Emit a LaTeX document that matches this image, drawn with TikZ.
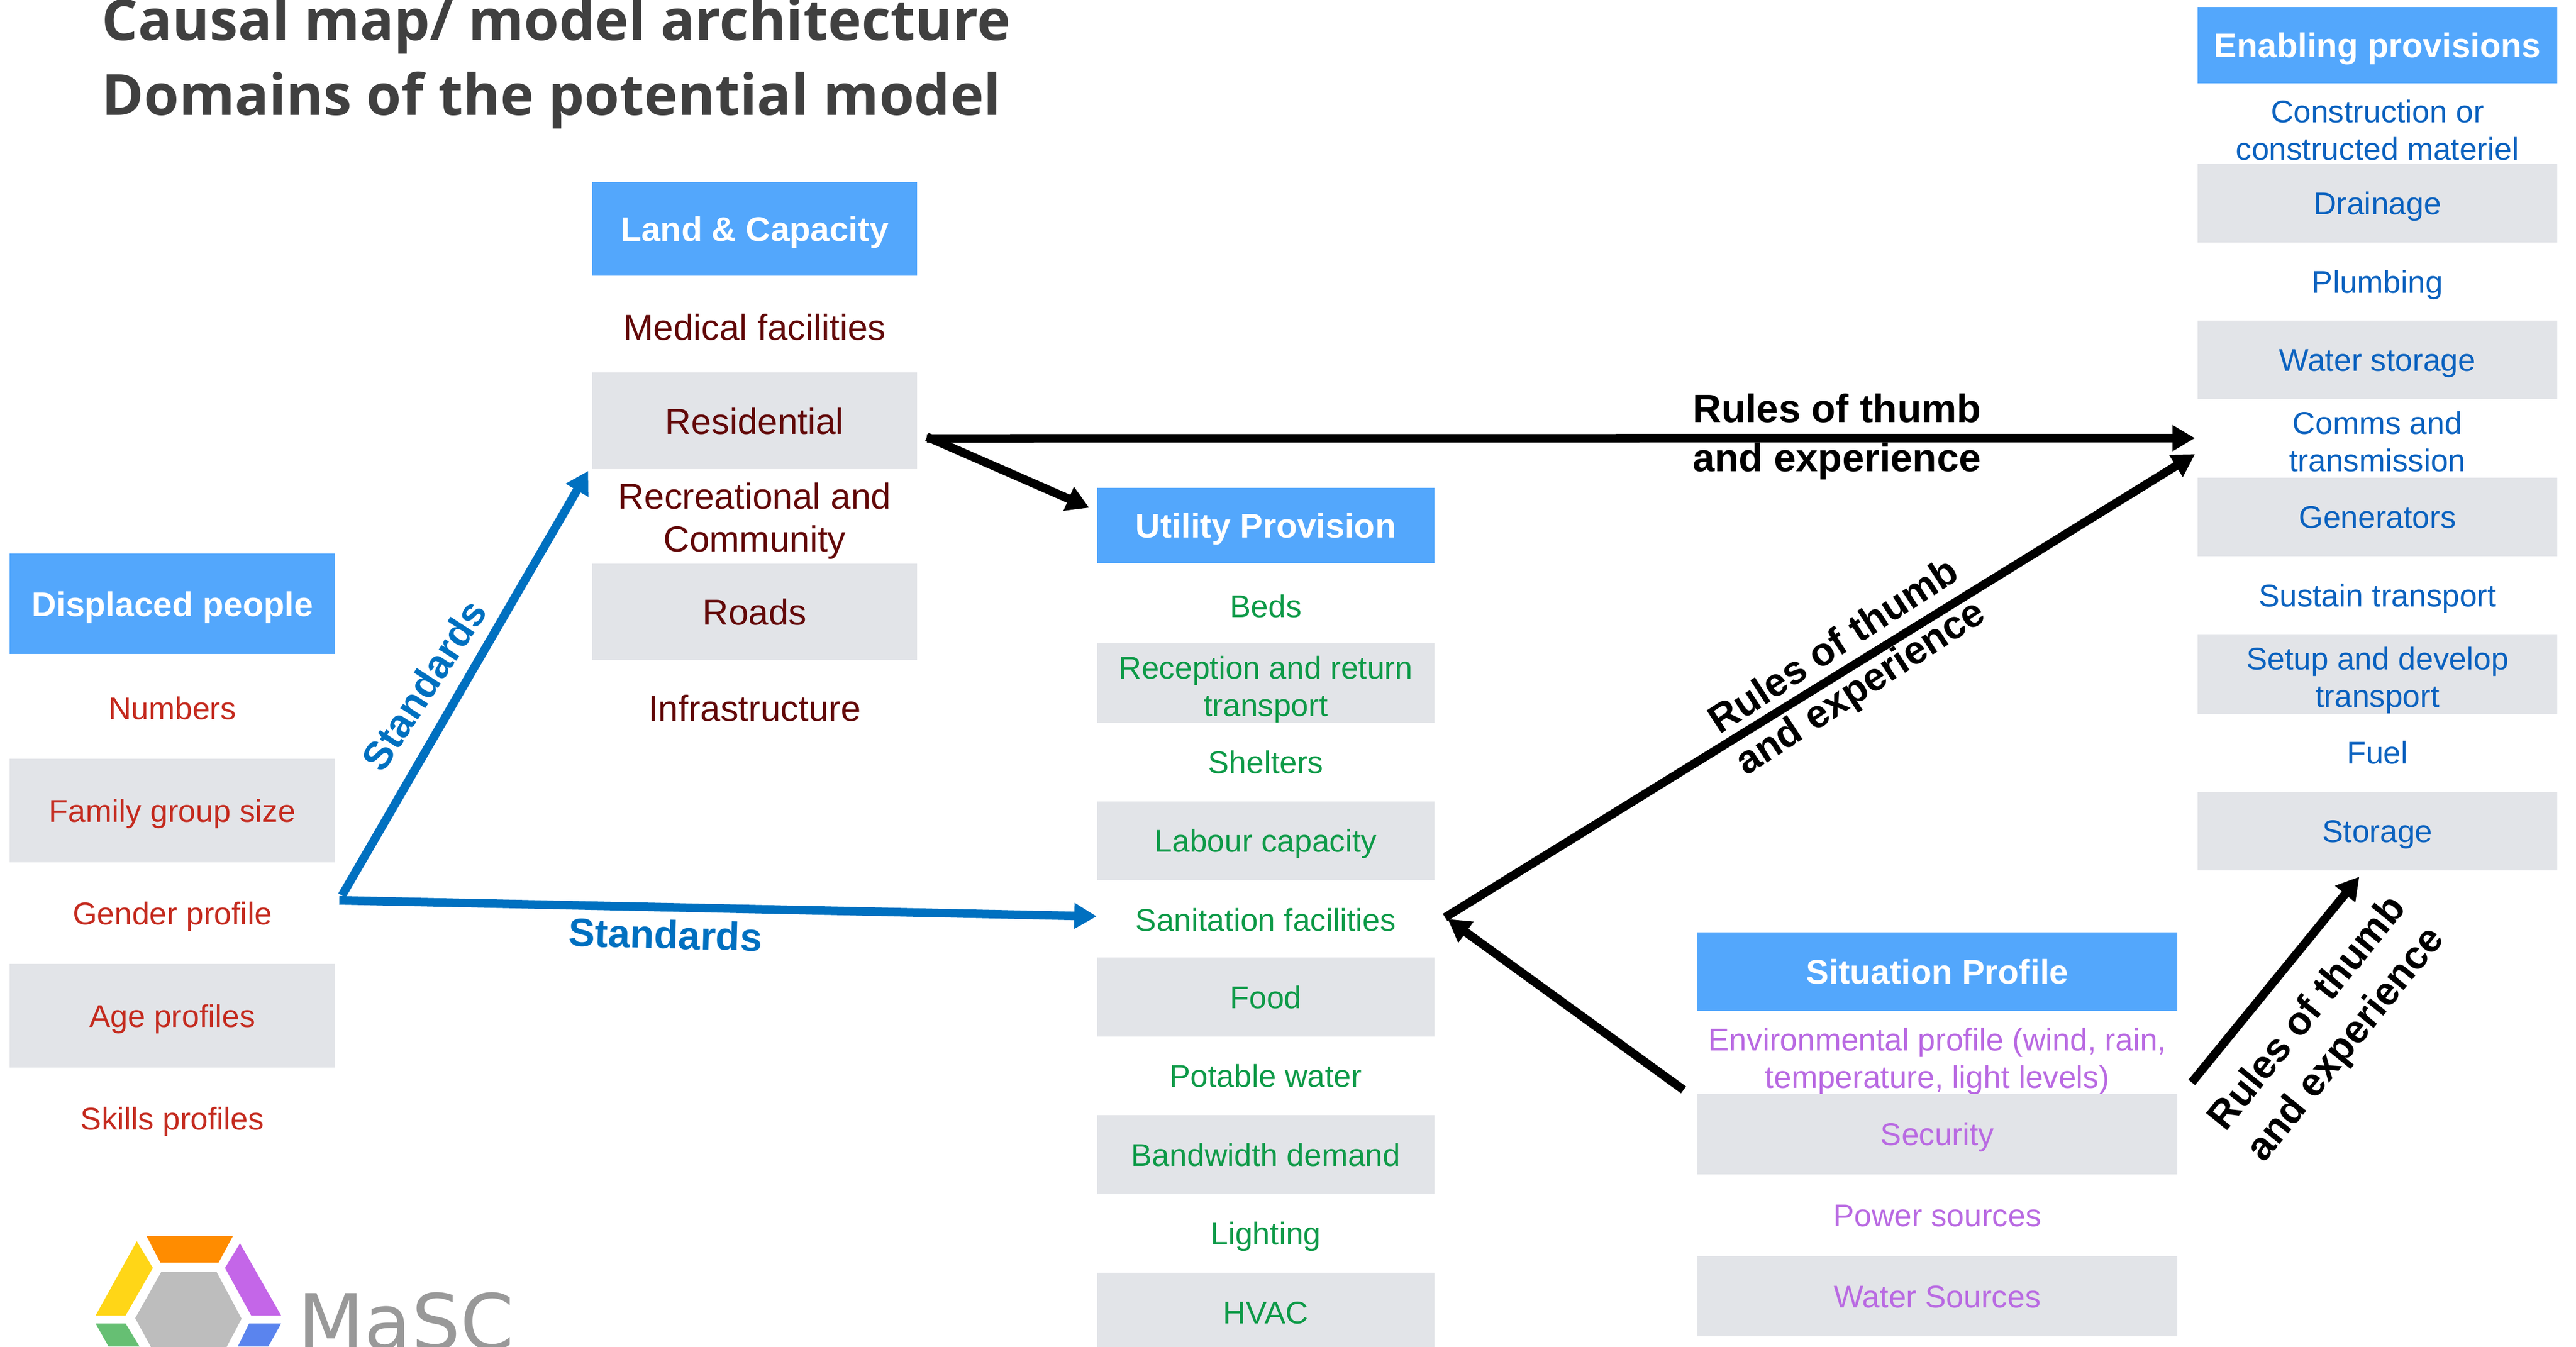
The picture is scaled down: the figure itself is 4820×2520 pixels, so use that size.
\documentclass[tikz,border=0pt]{standalone}
\usepackage{fontspec}
\setmainfont{Liberation Sans}
\newfontfamily\titlefont{Open Sans}
\newfontfamily\logofont{DejaVu Sans}
\usetikzlibrary{arrows.meta}
\definecolor{headblue}{HTML}{53A7FC}
\definecolor{rowgrey}{HTML}{E2E4E8}
\definecolor{txtred}{HTML}{C42A1E}
\definecolor{txtmaroon}{HTML}{620808}
\definecolor{txtgreen}{HTML}{0E9A48}
\definecolor{txtblue}{HTML}{0B62BF}
\definecolor{txtpurple}{HTML}{B96AE2}
\definecolor{arrblue}{HTML}{0070C0}
\definecolor{titlegrey}{HTML}{404040}
\definecolor{logoorange}{HTML}{FF8C00}
\definecolor{logoyellow}{HTML}{FFD617}
\definecolor{logopurple}{HTML}{C466E8}
\definecolor{logogrey}{HTML}{BDBDBD}
\definecolor{logogreen}{HTML}{66BF73}
\definecolor{logoblue}{HTML}{5A84EE}
\newcommand\dnstrut{\rule{0pt}{.66cm}}
\tikzset{
  header/.style={fill=headblue,text=white,inner sep=0,font=\fontsize{18.2}{21.5}\selectfont\bfseries,text height=.46cm,text depth=0cm},
  cell/.style={inner sep=0,align=center,font=\fontsize{16.73}{19.9}\selectfont},
  one/.style={cell,text height=.42cm,text depth=0cm},
  big/.style={inner sep=0,align=center,font=\fontsize{19.2}{22.7}\selectfont},
  bigone/.style={big,text height=.49cm,text depth=0cm},
  shade/.style={fill=rowgrey},
  dp/.style={minimum width=6.09cm,minimum height=1.936cm,text=txtred},
  lc/.style={minimum width=6.07cm,minimum height=1.8cm,text=txtmaroon},
  up/.style={minimum width=6.31cm,minimum height=1.47cm,text=txtgreen},
  en/.style={minimum width=6.73cm,minimum height=1.47cm,text=txtblue},
  si/.style={minimum width=8.98cm,minimum height=1.5cm,text=txtpurple},
  conn/.style={draw=black,line width=.16cm,-{Triangle[length=.42cm,width=.46cm]}},
  bconn/.style={draw=arrblue,line width=.16cm,-{Triangle[length=.42cm,width=.46cm]}},
  lab/.style={inner sep=0,align=center,font=\fontsize{21.05}{26.2}\selectfont\bfseries},
  titl/.style={inner sep=0,anchor=base west,text=titlegrey,font=\titlefont\fontsize{30.2}{35}\selectfont\bfseries}
}
\begin{document}
\begin{tikzpicture}[x=.01cm,y=-.01cm]
\useasboundingbox (0,0) rectangle (4820,2520);
\clip (0,0) rectangle (4820,2520);
% title
\node[titl] (t1) at (190,75) {Causal map/ model architecture};
\node[titl] (t2) at (190,215) {Domains of the potential model};
% displaced people
\node[header,minimum width=6.09cm,minimum height=1.87cm] (dph) at (322.5,1130) {Displaced people};
\node[one,dp] (dp1) at (322.5,1325) {Numbers};
\node[one,dp,shade] (dp2) at (322.5,1517) {Family group size};
\node[one,dp] (dp3) at (322.5,1709) {Gender profile};
\node[one,dp,shade] (dp4) at (322.5,1901) {Age profiles};
\node[one,dp] (dp5) at (322.5,2093) {Skills profiles};
% land
\node[header,minimum width=6.07cm,minimum height=1.75cm] (lch) at (1412,428.5) {Land \& Capacity};
\node[bigone,lc] (lc1) at (1412,612) {Medical facilities};
\node[bigone,lc,shade] (lc2) at (1412,787.5) {Residential};
\node[big,lc,text=txtmaroon] (lc3) at (1412,975) {Recreational and\\Community};
\node[bigone,lc,shade] (lc4) at (1412,1145) {Roads};
\node[bigone,lc] (lc5) at (1412,1325) {Infrastructure};
% utility
\node[header,minimum width=6.31cm,minimum height=1.41cm] (uph) at (2368.5,983.5) {Utility Provision};
\node[one,up] (up1) at (2368.5,1134) {Beds};
\node[up,shade,cell] (up2) at (2368.5,1278.5) {\dnstrut Reception and return\\transport};
\node[one,up] (up3) at (2368.5,1426) {Shelters};
\node[one,up,shade] (up4) at (2368.5,1573.5) {Labour capacity};
\node[one,up] (up5) at (2368.5,1721) {Sanitation facilities};
\node[one,up,shade] (up6) at (2368.5,1866) {Food};
\node[one,up] (up7) at (2368.5,2013) {Potable water};
\node[one,up,shade] (up8) at (2368.5,2161) {Bandwidth demand};
\node[one,up] (up9) at (2368.5,2308) {Lighting};
\node[one,up,shade] (up10) at (2368.5,2456) {HVAC};
% enabling
\node[header,minimum width=6.73cm,minimum height=1.43cm] (enh) at (4448.5,84.5) {Enabling provisions};
\node[cell,en] (en1) at (4448.5,243) {Construction or\\constructed materiel};
\node[one,en,shade] (en2) at (4448.5,380.5) {Drainage};
\node[one,en] (en3) at (4448.5,527) {Plumbing};
\node[one,en,shade] (en4) at (4448.5,673.5) {Water storage};
\node[cell,en] (en5) at (4448.5,826) {Comms and\\transmission};
\node[one,en,shade] (en6) at (4448.5,967.5) {Generators};
\node[one,en] (en7) at (4448.5,1114) {Sustain transport};
\node[cell,en,shade] (en8) at (4448.5,1261.5) {\dnstrut Setup and develop\\transport};
\node[one,en] (en9) at (4448.5,1408) {Fuel};
\node[one,en,shade] (en10) at (4448.5,1555.5) {Storage};
% situation
\node[header,minimum width=8.98cm,minimum height=1.47cm] (sih) at (3625,1818.5) {Situation Profile};
\node[cell,si] (si1) at (3625,1986) {Environmental profile (wind, rain,\\temperature, light levels)};
\node[one,si,shade] (si2) at (3625,2122.5) {Security};
\node[one,si] (si3) at (3625,2274) {Power sources};
\node[one,si,shade] (si4) at (3625,2426) {Water Sources};
% connectors
\draw[bconn] ([xshift=.12cm,yshift=.33cm]dp3.east) -- ([xshift=-.07cm,yshift=-.03cm]lc2.south west);
\draw[bconn] ([xshift=.07cm,yshift=.24cm]dp3.east) -- ([xshift=0cm,yshift=.06cm]up5.west);
\draw[conn] ([xshift=.18cm,yshift=-.33cm]lc2.east) -- ([xshift=-.04cm,yshift=.06cm]en5.west);
\draw[conn] ([xshift=.18cm,yshift=-.3cm]lc2.east) -- ([xshift=-.14cm,yshift=-.38cm]uph.north west);
\draw[conn] ([xshift=.19cm,yshift=.04cm]up5.east) -- ([xshift=-.04cm,yshift=-.24cm]en5.west);
\draw[conn] ([xshift=-.25cm,yshift=.07cm]si2.north west) -- ([xshift=.24cm,yshift=.01cm]up5.east);
\draw[conn] ([xshift=.26cm,yshift=.21cm]si2.north east) -- ([xshift=-.34cm,yshift=-.11cm]en10.south);
% connector labels
\node[lab,text=arrblue,rotate=57] (l1) at (793,1282) {Standards};
\node[lab,text=arrblue,rotate=-1.5] (l2) at (1245,1749) {Standards};
\node[lab] (l3) at (3437,817) {Rules of thumb\\and experience};
\node[lab,rotate=33] (l4) at (3458,1251) {Rules of thumb\\and experience};
\node[lab,rotate=51] (l5) at (4355,1927) {Rules of thumb\\and experience};
% logo
\fill[logoorange] (274,2313) -- (436,2313) -- (409,2363) -- (300,2363) -- cycle;
\fill[logoyellow] (256,2323) -- (286,2373) -- (235,2462) -- (179,2462) -- cycle;
\fill[logopurple] (449,2327) -- (526,2462) -- (470,2462) -- (421,2373) -- cycle;
\fill[logogrey] (302,2380) -- (405,2380) -- (452,2468) -- (405,2557) -- (302,2557) -- (253,2467) -- cycle;
\fill[logogreen] (179,2477) -- (235,2477) -- (261,2520) -- (203,2520) -- cycle;
\fill[logoblue] (466,2477) -- (526,2477) -- (502,2520) -- (445,2520) -- cycle;
\node[inner sep=0,anchor=base west,text=black!40,font=\logofont\fontsize{40.9}{45}\selectfont] (logo) at (557,2525) {MaSC};
\end{tikzpicture}
\end{document}
